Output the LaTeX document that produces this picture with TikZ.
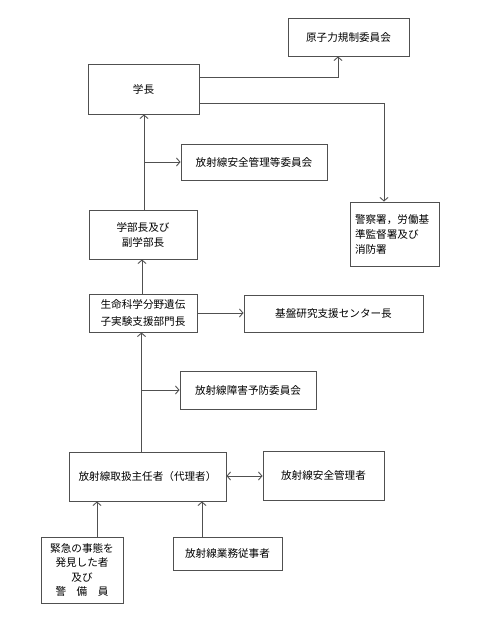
\documentclass[tikz,border=0pt]{standalone}
\usepackage{fontspec}
\setmainfont{Noto Sans CJK JP}
\usetikzlibrary{arrows.meta}
\definecolor{ln}{HTML}{505050}
\tikzset{
  box/.style={draw=ln, line width=0.9pt, inner sep=0pt, align=center, font=\fontsize{10.6}{15}\selectfont},
  arr/.style={draw=ln, line width=0.9pt, -{Straight Barb[length=3.5pt,width=8pt]}},
  darr/.style={draw=ln, line width=0.9pt, {Straight Barb[length=3.5pt,width=8pt]}-{Straight Barb[length=3.5pt,width=8pt]}}
}
\begin{document}
\begin{tikzpicture}[x=1pt,y=-1pt]
\useasboundingbox (0,0) rectangle (480,624);
\node[box, minimum width=121pt, minimum height=38pt] (genshi) at (348.5,37) {原子力規制委員会};
\node[box, minimum width=111pt, minimum height=50pt] (gakucho) at (143.5,89) {学長};
\node[box, minimum width=146pt, minimum height=36pt] (iinkai) at (254,162) {放射線安全管理等委員会};
\node[box, minimum width=89pt, minimum height=64pt, align=left, text width=79pt] (keisatsu) at (394.5,234) {警察署，労働基\\準監督署及び\\消防署};
\node[box, minimum width=108pt, minimum height=49pt] (gakubu) at (143,234.5) {学部長及び\\副学部長};
\node[box, minimum width=108pt, minimum height=38pt, font=\fontsize{10.6}{17}\selectfont] (seimei) at (143,313) {生命科学分野遺伝\\子実験支援部門長};
\node[box, minimum width=179pt, minimum height=37pt] (kiban) at (333.5,313.5) {基盤研究支援センター長};
\node[box, minimum width=136pt, minimum height=38pt] (yobou) at (248,390) {放射線障害予防委員会};
\node[box, minimum width=157pt, minimum height=49pt] (shunin) at (147.5,476.5) {放射線取扱主任者（代理者）};
\node[box, minimum width=121pt, minimum height=49pt] (anzen) at (323.5,475.5) {放射線安全管理者};
\node[box, minimum width=82pt, minimum height=66pt, font=\fontsize{10.6}{14.6}\selectfont] (kinkyu) at (82,570) {緊急の事態を\\発見した者\\及び\\警　備　員};
\node[box, minimum width=109pt, minimum height=33pt] (juji) at (227.5,553.5) {放射線業務従事者};

\draw[arr] (gakucho.east |- 0,77) -| (genshi.south -| 338,0);
\draw[arr] (gakucho.east |- 0,103) -| (keisatsu.north -| 384,0);
\draw[arr] (gakubu.north -| 144,0) -- (gakucho.south -| 144,0);
\draw[arr] (iinkai.west -| 144,0) -- (iinkai.west);
\draw[arr] (seimei.north -| 142,0) -- (gakubu.south -| 142,0);
\draw[arr] (seimei.east) -- (kiban.west |- seimei.east);
\draw[arr] (shunin.north -| 141.5,0) -- (seimei.south -| 141.5,0);
\draw[arr] (yobou.west -| 141.5,0) -- (yobou.west);
\draw[darr] (shunin.east |- 0,476) -- (anzen.west |- 0,476);
\draw[arr] (kinkyu.north -| 97,0) -- (shunin.south -| 97,0);
\draw[arr] (juji.north -| 202,0) -- (shunin.south -| 202,0);
\end{tikzpicture}
\end{document}
